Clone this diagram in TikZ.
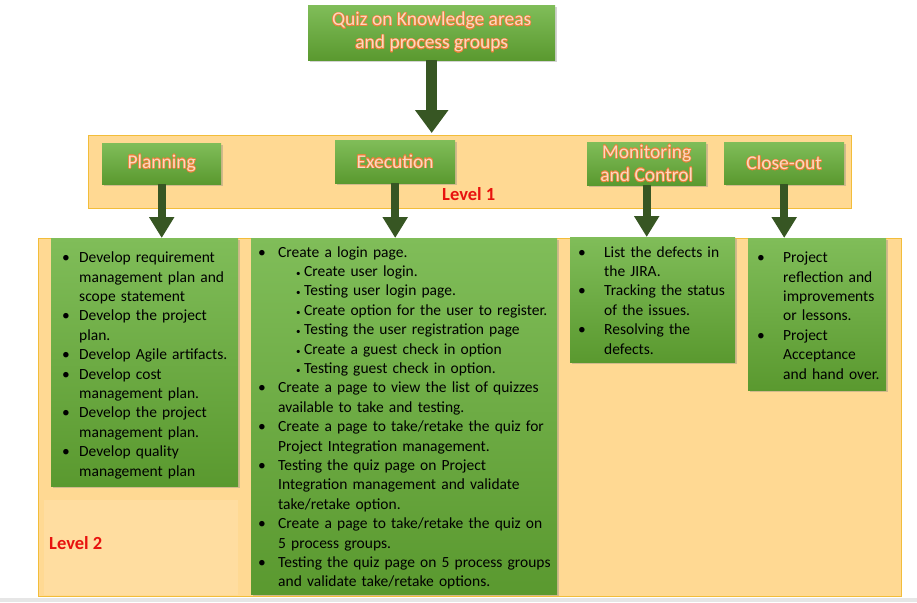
\documentclass[tikz,border=0pt]{standalone}
\usepackage{fontspec}
\setmainfont{Carlito}
\usepackage{enumitem}
\usepackage[copies]{contour}
\usetikzlibrary{arrows.meta,shadows}

\definecolor{grtop}{HTML}{80BD59}
\definecolor{grbot}{HTML}{5A992F}
\definecolor{arrgreen}{HTML}{375623}
\definecolor{bandfill}{HTML}{FFD993}
\definecolor{bandline}{HTML}{F2BD3A}
\definecolor{titletext}{HTML}{FCD9C0}
\definecolor{titleglow}{HTML}{E9823A}
\definecolor{lvlred}{HTML}{E8120E}
\definecolor{stripgray}{HTML}{E6E6E6}

\contourlength{0.6pt}
\contournumber{16}
\newcommand{\ttl}[1]{\contour{titleglow}{#1}}

\setlist[itemize,1]{label=\textbullet, align=left, labelsep=0pt, itemsep=0pt,
  topsep=0pt, parsep=0pt, partopsep=0pt}
\setlist[itemize,2]{label=\small\textbullet, align=left, leftmargin=26pt,
  labelwidth=8pt, labelsep=0pt, itemsep=0pt, topsep=0pt, parsep=0pt, partopsep=0pt}

\newcommand{\listfont}{\fontsize{15.5}{19.4}\selectfont}

\begin{document}
\begin{tikzpicture}[x=1pt,y=-1pt,
  band/.style={draw=bandline, line width=0.8pt, fill=bandfill, anchor=north west, inner sep=0pt},
  greenbox/.style={top color=grtop, bottom color=grbot, draw=none, anchor=north west, inner sep=0pt,
    drop shadow={opacity=0.35, shadow xshift=2pt, shadow yshift=-2pt}},
  titlebox/.style={greenbox, text=titletext, align=center, font=\fontsize{19.5}{23}\selectfont},
  listtext/.style={anchor=north west, inner sep=0pt, font=\listfont, text=black},
  lvltext/.style={text=lvlred, font=\fontsize{18.5}{21}\selectfont\bfseries, inner sep=0pt, anchor=west},
  bigarrow/.style={draw=arrgreen, line width=11pt, -{Triangle[width=32pt,length=23pt]}, shorten >=2pt},
  smallarrow/.style={draw=arrgreen, line width=8pt, -{Triangle[width=24pt,length=21pt]}}
]
\useasboundingbox (0,0) rectangle (917,602);
\fill[stripgray] (0,598) rectangle (917,602);

% bands
\node[band, minimum width=763pt, minimum height=73pt] (lvlone) at (88,135) {};
\node[band, minimum width=863pt, minimum height=358pt] (lvltwo) at (38,238) {};

% level labels
\node[lvltext] (lvlonelbl) at (442,194) {Level 1};
\node[fill=white, fill opacity=0.12, minimum width=194pt, minimum height=95pt, anchor=north west, inner sep=0pt] (lvltwobg) at (44,500) {};
\node[lvltext] (lvltwolbl) at (49,543) {Level 2};

% top and level 1 boxes
\node[titlebox, minimum width=247pt, minimum height=55pt] (quiz) at (308,5) {\ttl{Quiz on Knowledge areas}\\\ttl{and process groups}};
\node[titlebox, minimum width=119pt, minimum height=41pt] (plan) at (102,143) {\ttl{Planning}};
\node[titlebox, minimum width=120pt, minimum height=43pt] (exec) at (335,140) {\ttl{Execution}};
\node[titlebox, minimum width=119pt, minimum height=43pt] (moni) at (587,142) {\ttl{Monitoring}\\\ttl{and Control}};
\node[titlebox, minimum width=120pt, minimum height=42pt] (close) at (724,142) {\ttl{Close-out}};

% level 2 boxes
\node[greenbox, minimum width=187pt, minimum height=248pt] (planbox) at (51,238) {};
\node[greenbox, minimum width=306pt, minimum height=356pt] (execbox) at (251,238) {};
\node[greenbox, minimum width=165pt, minimum height=125pt] (monibox) at (570,237) {};
\node[greenbox, minimum width=138pt, minimum height=152pt] (closebox) at (748,238) {};

\node[listtext, text width=180pt] (plantxt) at (57,243) {%
\begin{itemize}[leftmargin=22pt, labelwidth=17pt]
\item Develop requirement\\management plan and\\scope statement
\item Develop the project\\plan.
\item Develop Agile artifacts.
\item Develop cost\\management plan.
\item Develop the project\\management plan.
\item Develop quality\\management plan
\end{itemize}};

\node[listtext, text width=298pt] (exectxt) at (257,237.5) {%
\begin{itemize}[leftmargin=21pt, labelwidth=20pt]
\item Create a login page.
  \begin{itemize}
  \item Create user login.
  \item Testing user login page.
  \item Create option for the user to register.
  \item Testing the user registration page
  \item Create a guest check in option
  \item Testing guest check in option.
  \end{itemize}
\item Create a page to view the list of quizzes\\available to take and testing.
\item Create a page to take/retake the quiz for\\Project Integration management.
\item Testing the quiz page on Project\\Integration management and validate\\take/retake option.
\item Create a page to take/retake the quiz on\\5 process groups.
\item Testing the quiz page on 5 process groups\\and validate take/retake options.
\end{itemize}};

\node[listtext, text width=158pt] (monitxt) at (576,237.5) {%
\begin{itemize}[leftmargin=28pt, labelwidth=26pt]
\item List the defects in\\the JIRA.
\item Tracking the status\\of the issues.
\item Resolving the\\defects.
\end{itemize}};

\node[listtext, text width=132pt] (closetxt) at (754,243) {%
\begin{itemize}[leftmargin=29pt, labelwidth=26pt]
\item Project\\reflection and\\improvements\\or lessons.
\item Project\\Acceptance\\and hand over.
\end{itemize}};

% arrows
\draw[bigarrow] (quiz.south) -- (quiz.south |- lvlone.north);
\draw[smallarrow] (plan.south) -- (plan.south |- planbox.north);
\draw[smallarrow] (exec.south) -- (exec.south |- execbox.north);
\draw[smallarrow] (moni.south) -- (moni.south |- monibox.north);
\draw[smallarrow] (close.south) -- (close.south |- closebox.north);

\end{tikzpicture}
\end{document}
